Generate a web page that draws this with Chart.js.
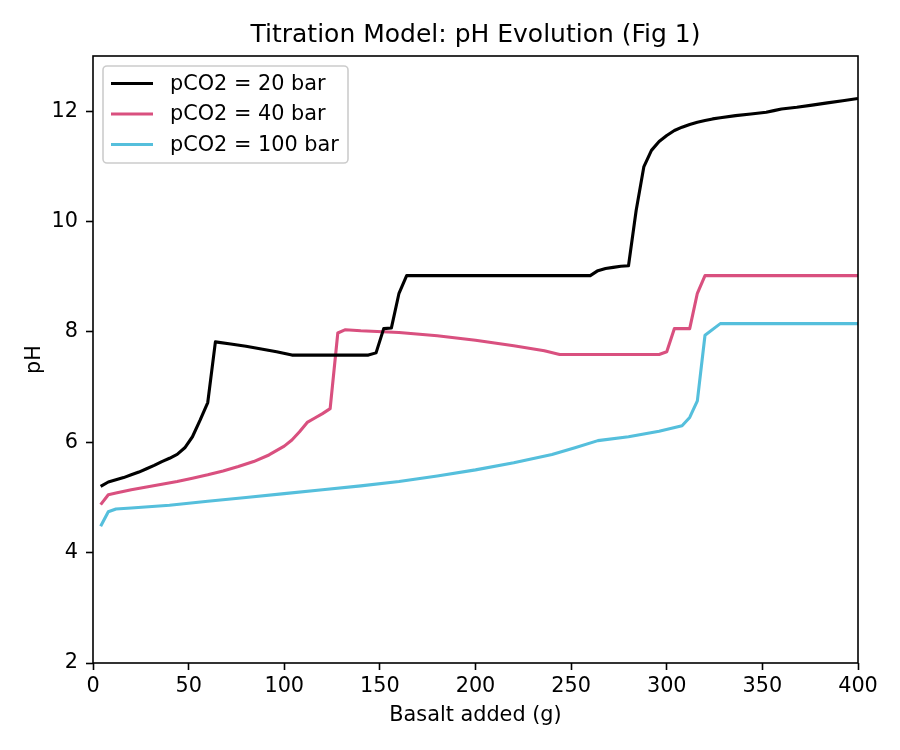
<!DOCTYPE html>
<html>
<head>
<meta charset="utf-8">
<script src="https://cdn.jsdelivr.net/npm/chart.js@4"></script>
<style>
  html, body { margin: 0; padding: 0; background: #fff; }
  canvas { display: block; }
</style>
</head>
<body>
<canvas id="chart" width="900" height="750"></canvas>
<script>
// Basalt added (g) and pH
const basalt20 = [4, 8, 12, 16, 20, 24, 28, 32, 36, 40, 44, 48, 52, 56, 60, 64, 72, 80, 88, 96, 104,
    144, 148, 152, 156, 160, 164, 260, 264, 268, 272, 276, 280, 284, 288, 292, 296, 300, 304, 308,
    312, 316, 320, 324, 328, 336, 344, 352, 356, 360, 368, 376, 384, 392, 400];
const ph20 = [5.20, 5.28, 5.32, 5.36, 5.41, 5.46, 5.52, 5.58, 5.65, 5.71, 5.78, 5.90, 6.10, 6.40, 6.72, 7.82, 7.78, 7.74, 7.69, 7.64, 7.58,
    7.58, 7.62, 8.06, 8.07, 8.70, 9.02, 9.02, 9.11, 9.15, 9.17, 9.19, 9.20, 10.20, 10.99, 11.29, 11.45, 11.56, 11.65, 11.71,
    11.76, 11.80, 11.83, 11.86, 11.88, 11.92, 11.95, 11.98, 12.01, 12.04, 12.07, 12.11, 12.15, 12.19, 12.23];

const basalt40 = [4, 8, 12, 20, 28, 36, 44, 52, 60, 68, 76, 84, 92, 100, 104, 108, 112, 116, 120, 124,
    128, 132, 140, 160, 180, 200, 220, 236, 244, 296, 300, 304, 312, 316, 320, 400];
const ph40 = [4.87, 5.05, 5.08, 5.14, 5.19, 5.24, 5.29, 5.35, 5.41, 5.48, 5.56, 5.65, 5.77, 5.93, 6.04, 6.19, 6.36, 6.44, 6.52, 6.61,
    7.98, 8.04, 8.02, 7.99, 7.93, 7.85, 7.75, 7.66, 7.59, 7.59, 7.64, 8.06, 8.06, 8.70, 9.02, 9.02];

const basalt100 = [4, 8, 12, 20, 40, 60, 80, 100, 120, 140, 160, 180, 200, 220, 240, 252, 264, 280,
    296, 308, 312, 316, 320, 328, 400];
const ph100 = [4.48, 4.74, 4.79, 4.81, 4.86, 4.93, 5.00, 5.07, 5.14, 5.21, 5.29, 5.39, 5.50, 5.63, 5.78, 5.90, 6.03, 6.10,
    6.20, 6.30, 6.45, 6.75, 7.94, 8.15, 8.15];

const seriesLabels = ['pCO2 = 20 bar', 'pCO2 = 40 bar', 'pCO2 = 100 bar'];
const xTicks = [0, 50, 100, 150, 200, 250, 300, 350, 400];
const yTicks = [2, 4, 6, 8, 10, 12];

const FONT = "'DejaVu Sans', Verdana, sans-serif";

function toPoints(xs, ys) {
    return xs.map((x, i) => ({ x: x, y: ys[i] }));
}

// full box around the plot area, like matplotlib spines
const frame = {
    id: 'frame',
    afterDraw(chart) {
        const a = chart.chartArea;
        const ctx = chart.ctx;
        ctx.save();
        ctx.strokeStyle = '#000';
        ctx.lineWidth = 1.6;
        ctx.strokeRect(a.left, a.top, a.right - a.left, a.bottom - a.top);
        ctx.restore();
    }
};

// legend drawn inside the axes, upper left
const boxLegend = {
    id: 'boxLegend',
    afterDraw(chart) {
        const ctx = chart.ctx;
        const a = chart.chartArea;
        const x0 = a.left + 10, y0 = a.top + 10;
        const w = 245, h = 97, r = 4;
        ctx.save();
        ctx.fillStyle = 'rgba(255,255,255,0.8)';
        ctx.strokeStyle = '#cccccc';
        ctx.lineWidth = 1.6;
        ctx.beginPath();
        ctx.roundRect(x0, y0, w, h, r);
        ctx.fill();
        ctx.stroke();
        ctx.font = '20.8px ' + FONT;
        ctx.textBaseline = 'middle';
        chart.data.datasets.forEach((ds, i) => {
            const y = y0 + 17.5 + i * 30.5;
            ctx.strokeStyle = ds.borderColor;
            ctx.lineWidth = 3.1;
            ctx.beginPath();
            ctx.moveTo(x0 + 8, y);
            ctx.lineTo(x0 + 50, y);
            ctx.stroke();
            ctx.fillStyle = '#000';
            ctx.fillText(ds.label, x0 + 67, y + 1);
        });
        ctx.restore();
    }
};

new Chart(document.getElementById('chart'), {
    type: 'line',
    data: {
        datasets: [
            { label: seriesLabels[0], data: toPoints(basalt20, ph20), borderColor: '#000000' },
            { label: seriesLabels[1], data: toPoints(basalt40, ph40), borderColor: '#d9507f' },
            { label: seriesLabels[2], data: toPoints(basalt100, ph100), borderColor: '#55bfdc' }
        ]
    },
    options: {
        responsive: false,
        animation: false,
        datasets: {
            line: { borderWidth: 3.1, borderJoinStyle: 'round', pointRadius: 0, tension: 0, fill: false }
        },
        layout: { padding: { top: 0, right: 42, bottom: 0, left: 0 } },
        plugins: {
            legend: { display: false },
            tooltip: { enabled: false },
            title: {
                display: true,
                fullSize: false,
                text: 'Titration Model: pH Evolution (Fig 1)',
                color: '#000',
                font: { family: FONT, size: 25, weight: 'normal' },
                padding: { top: 20, bottom: 6 }
            }
        },
        scales: {
            x: {
                type: 'linear',
                min: 0,
                max: 400,
                afterBuildTicks: (s) => { s.ticks = xTicks.map(v => ({ value: v })); },
                afterFit: (s) => { s.height = 87; },
                grid: { drawOnChartArea: false, drawTicks: true, tickLength: 7, tickWidth: 1.6, color: '#000' },
                border: { display: false },
                ticks: { color: '#000', padding: 4, maxRotation: 0, font: { family: FONT, size: 20.8 } },
                title: {
                    display: true,
                    text: 'Basalt added (g)',
                    color: '#000',
                    font: { family: FONT, size: 20.8 },
                    padding: { top: 4, bottom: 22 }
                }
            },
            y: {
                min: 2,
                max: 13,
                afterBuildTicks: (s) => { s.ticks = yTicks.map(v => ({ value: v })); },
                afterFit: (s) => { s.width = 93; },
                grid: { drawOnChartArea: false, drawTicks: true, tickLength: 7, tickWidth: 1.6, color: '#000' },
                border: { display: false },
                ticks: { color: '#000', padding: 8, font: { family: FONT, size: 20.8 } },
                title: {
                    display: true,
                    text: 'pH',
                    color: '#000',
                    font: { family: FONT, size: 20.8 },
                    padding: { top: 22, bottom: 4 }
                }
            }
        }
    },
    plugins: [frame, boxLegend]
});
</script>
</body>
</html>
